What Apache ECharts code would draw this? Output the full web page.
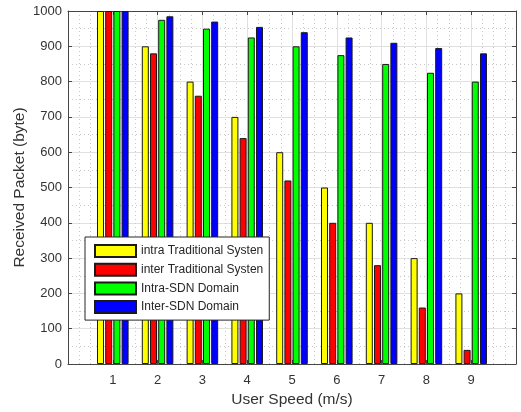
<!DOCTYPE html>
<html>
<head>
<meta charset="utf-8">
<script src="https://cdn.jsdelivr.net/npm/echarts@6/dist/echarts.min.js"></script>
<style>
  html, body { margin: 0; padding: 0; background: #fff; }
  #chart { width: 521px; height: 412px; }
</style>
</head>
<body>
<div id="chart"></div>
<script>
// User speed (m/s) on the x axis
var speeds = [1, 2, 3, 4, 5, 6, 7, 8, 9];

// Received packets (byte) per scheme
var intraTraditional = [1000, 900, 800, 700, 600, 500, 400, 300, 200];
var interTraditional = [1000, 880, 760, 640, 520, 400, 280, 160, 40];
var intraSDN = [1000, 975, 950, 925, 900, 875, 850, 825, 800];
var interSDN = [1000, 985, 970, 955, 940, 925, 910, 895, 880];

var seriesNames = ['intra Traditional Systen', 'inter Traditional Systen', 'Intra-SDN Domain', 'Inter-SDN Domain'];
var seriesValues = [intraTraditional, interTraditional, intraSDN, interSDN];
var seriesColors = ['#ffff00', '#ff0000', '#00ff00', '#0000ff'];

var FONT = 'Liberation Sans, Arial, Helvetica, sans-serif';
var AXIS_COLOR = '#454545';
var TEXT_COLOR = '#333333';

var chart = echarts.init(document.getElementById('chart'), null, { renderer: 'canvas' });

var series = seriesNames.map(function (name, k) {
  return {
    name: name,
    type: 'bar',
    xAxisIndex: 0,
    yAxisIndex: 0,
    barWidth: 7,
    barGap: '17%',
    itemStyle: { color: seriesColors[k], borderColor: '#1a1a1a', borderWidth: 1 },
    data: speeds.map(function (s, i) { return [s, seriesValues[k][i]]; })
  };
});

chart.setOption({
  animation: false,
  backgroundColor: '#ffffff',
  textStyle: { fontFamily: FONT },
  grid: { left: 68, right: 5, top: 11, bottom: 48, containLabel: false, outerBoundsMode: 'none' },
  legend: {
    orient: 'vertical',
    left: 85,
    top: 237,
    data: seriesNames,
    itemWidth: 41,
    itemHeight: 12,
    itemGap: 4.7,
    padding: [7, 6, 6, 9],
    backgroundColor: '#ffffff',
    borderColor: '#262626',
    borderWidth: 1,
    borderRadius: 0,
    icon: 'rect',
    textStyle: { fontFamily: FONT, fontSize: 12, color: '#262626' }
  },
  xAxis: [
    {
      type: 'value',
      position: 'bottom',
      min: 0,
      max: 10,
      interval: 1,
      name: 'User Speed (m/s)',
      nameLocation: 'middle',
      nameGap: 28,
      nameTextStyle: { fontFamily: FONT, fontSize: 15.5, color: TEXT_COLOR },
      axisLine: { show: true, onZero: false, lineStyle: { color: AXIS_COLOR, width: 1 } },
      axisTick: { show: true, inside: true, length: 4, lineStyle: { color: AXIS_COLOR } },
      axisLabel: {
        margin: 10,
        fontFamily: FONT,
        fontSize: 13,
        color: TEXT_COLOR,
        formatter: function (v) { return (v >= 1 && v <= 9) ? String(v) : ''; }
      },
      splitLine: { show: true, lineStyle: { color: '#e0e0e0', width: 1 } },
      minorTick: { show: false, splitNumber: 4 },
      minorSplitLine: { show: true, lineStyle: { color: '#c8c8c8', width: 1, type: [1, 3] } }
    },
    {
      type: 'value',
      position: 'top',
      min: 0,
      max: 10,
      interval: 1,
      axisLine: { show: true, onZero: false, lineStyle: { color: AXIS_COLOR, width: 1 } },
      axisTick: { show: true, inside: true, length: 4, lineStyle: { color: AXIS_COLOR } },
      axisLabel: { show: false },
      splitLine: { show: false }
    }
  ],
  yAxis: [
    {
      type: 'value',
      position: 'left',
      min: 0,
      max: 1000,
      interval: 100,
      name: 'Received Packet (byte)',
      nameLocation: 'middle',
      nameGap: 40,
      nameMoveOverlap: false,
      nameRotate: 90,
      nameTextStyle: { fontFamily: FONT, fontSize: 15.5, color: TEXT_COLOR },
      axisLine: { show: true, onZero: false, lineStyle: { color: AXIS_COLOR, width: 1 } },
      axisTick: { show: true, inside: true, length: 4, lineStyle: { color: AXIS_COLOR } },
      axisLabel: {
        margin: 6,
        fontFamily: FONT,
        fontSize: 13,
        color: TEXT_COLOR,
        formatter: function (v) { return String(v); }
      },
      splitLine: { show: true, lineStyle: { color: '#e0e0e0', width: 1 } },
      minorTick: { show: false, splitNumber: 2 },
      minorSplitLine: { show: true, lineStyle: { color: '#c8c8c8', width: 1, type: [1, 3] } }
    },
    {
      type: 'value',
      position: 'right',
      min: 0,
      max: 1000,
      interval: 100,
      axisLine: { show: true, onZero: false, lineStyle: { color: AXIS_COLOR, width: 1 } },
      axisTick: { show: true, inside: true, length: 4, lineStyle: { color: AXIS_COLOR } },
      axisLabel: { show: false },
      splitLine: { show: false }
    }
  ],
  series: series
});
</script>
</body>
</html>
